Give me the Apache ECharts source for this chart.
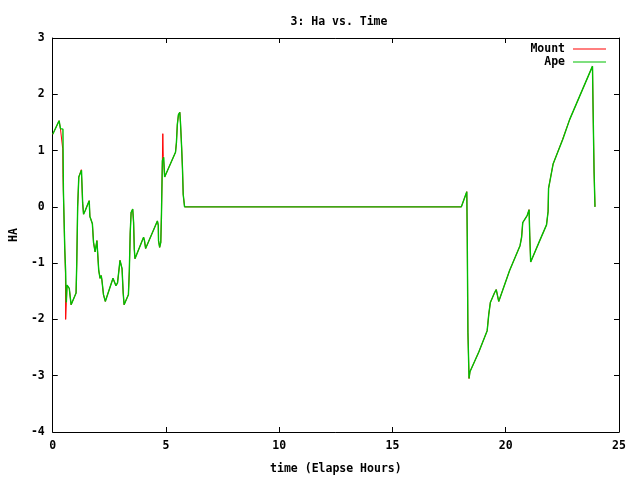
<!DOCTYPE html>
<html>
<head>
<meta charset="utf-8">
<script src="https://cdn.jsdelivr.net/npm/echarts@6/dist/echarts.min.js"></script>
<style>
  html, body { margin: 0; padding: 0; background: #fff; }
  #chart { width: 640px; height: 480px; }
</style>
</head>
<body>
<div id="chart"></div>
<script>
// Ape (green) track: elapsed hours vs HA
const apeTime = [
  0.00, 0.28, 0.34, 0.40, 0.45, 0.47, 0.53, 0.57, 0.60, 0.63, 0.70, 0.73, 0.81, 1.03, 1.06, 1.10,
  1.15, 1.27, 1.32, 1.36, 1.43, 1.55, 1.61, 1.64, 1.71, 1.75, 1.80, 1.87, 1.95, 1.98, 2.03, 2.09,
  2.14, 2.17, 2.24, 2.32, 2.66, 2.72, 2.79, 2.86, 2.97, 3.01, 3.06, 3.11, 3.15, 3.34, 3.38, 3.42,
  3.46, 3.53, 3.57, 3.60, 3.63, 4.01, 4.05, 4.10, 4.62, 4.66, 4.67, 4.72, 4.77, 4.80, 4.84, 4.90,
  4.94, 5.42, 5.46, 5.50, 5.55, 5.61, 5.64, 5.69, 5.73, 5.76, 5.82, 18.04, 18.28, 18.30, 18.33, 18.38,
  18.42, 18.81, 19.18, 19.25, 19.32, 19.50, 19.58, 19.69, 20.17, 20.63, 20.70, 20.75, 20.95, 21.03, 21.06, 21.10,
  21.50, 21.80, 21.87, 21.89, 22.09, 22.52, 22.82, 23.83, 23.85, 23.90, 23.94
];
const apeHa = [
  1.29, 1.53, 1.39, 1.38, 1.38, 0.30, -0.74, -1.16, -1.70, -1.39, -1.42, -1.45, -1.74, -1.53, -1.00, 0.00,
  0.53, 0.65, 0.07, -0.13, -0.07, 0.05, 0.11, -0.17, -0.20, -0.30, -0.63, -0.80, -0.60, -0.80, -1.13, -1.27,
  -1.22, -1.30, -1.56, -1.68, -1.27, -1.33, -1.40, -1.35, -0.95, -0.93, -1.10, -1.53, -1.74, -1.56, -1.15, -0.46,
  -0.10, -0.04, -0.28, -0.75, -0.92, -0.54, -0.60, -0.74, -0.25, -0.33, -0.60, -0.72, -0.63, -0.13, 0.82, 0.88,
  0.53, 0.97, 1.14, 1.46, 1.64, 1.68, 1.49, 1.06, 0.65, 0.22, 0.00, 0.00, 0.27, -0.54, -2.23, -3.05,
  -2.93, -2.58, -2.20, -1.91, -1.70, -1.53, -1.47, -1.68, -1.13, -0.69, -0.54, -0.28, -0.15, -0.05, -0.51, -0.98,
  -0.60, -0.32, -0.08, 0.33, 0.76, 1.20, 1.55, 2.50, 1.90, 0.62, 0.00
];

// Mount (red) track: mostly under the Ape line, differs in a few spots
const mountTime = [
  0.00, 0.28, 0.34, 0.40, 0.43, 0.44, 0.45, 0.53, 0.56, 0.57, 0.60, 0.63, 0.70, 0.73, 0.81, 1.03,
  1.06, 1.10, 1.15, 1.26, 1.32, 1.36, 1.43, 1.55, 1.61, 1.64, 1.71, 1.75, 1.80, 1.87, 1.95, 1.98,
  2.03, 2.09, 2.14, 2.17, 2.24, 2.32, 2.66, 2.72, 2.79, 2.86, 2.97, 3.01, 3.06, 3.11, 3.15, 3.34,
  3.38, 3.42, 3.46, 3.53, 3.57, 3.60, 3.63, 4.01, 4.05, 4.10, 4.62, 4.66, 4.67, 4.72, 4.77, 4.80,
  4.84, 4.86, 4.88, 4.94, 5.42, 5.46, 5.50, 5.55, 5.61, 5.64, 5.69, 5.73, 5.76, 5.82, 18.04, 18.28,
  18.30, 18.33, 18.38, 18.42, 18.81, 19.18, 19.25, 19.32, 19.50, 19.58, 19.69, 20.17, 20.63, 20.70, 20.75, 20.95,
  21.03, 21.06, 21.10, 21.50, 21.80, 21.87, 21.89, 22.09, 22.50, 22.82, 23.83, 23.85, 23.90, 23.94
];
const mountHa = [
  1.29, 1.53, 1.39, 1.38, 1.38, 1.03, 0.57, -0.74, -1.16, -2.00, -1.70, -1.39, -1.42, -1.45, -1.74, -1.53,
  -1.00, 0.00, 0.53, 0.66, 0.07, -0.13, -0.07, 0.05, 0.11, -0.17, -0.20, -0.30, -0.63, -0.80, -0.60, -0.80,
  -1.13, -1.27, -1.22, -1.30, -1.56, -1.68, -1.27, -1.33, -1.40, -1.35, -0.95, -0.93, -1.10, -1.53, -1.74, -1.56,
  -1.15, -0.46, -0.10, -0.04, -0.28, -0.75, -0.92, -0.54, -0.60, -0.74, -0.25, -0.33, -0.60, -0.72, -0.63, -0.13,
  0.82, 1.30, 0.90, 0.53, 0.97, 1.14, 1.46, 1.64, 1.68, 1.49, 1.06, 0.65, 0.22, 0.00, 0.00, 0.27,
  -0.54, -2.23, -3.05, -2.93, -2.58, -2.20, -1.91, -1.70, -1.53, -1.47, -1.68, -1.13, -0.69, -0.54, -0.28, -0.15,
  -0.05, -0.51, -0.98, -0.60, -0.32, -0.08, 0.33, 0.76, 1.19, 1.55, 2.50, 1.90, 0.62, 0.00
];

const xTicks = [0, 5, 10, 15, 20, 25];
const yTicks = [-4, -3, -2, -1, 0, 1, 2, 3];

const FONT = "'DejaVu Sans Mono', monospace";
const txt = { fontFamily: FONT, fontSize: 11.5, fontWeight: "bold", color: "#000" };

const zip = (xs, ys) => xs.map((x, i) => [x, ys[i]]);

const chart = echarts.init(document.getElementById("chart"));

const tickAxisBase = {
  axisLine: { show: true, onZero: false, lineStyle: { color: "#000", width: 1 } },
  axisTick: { show: true, inside: true, length: 5, lineStyle: { color: "#000" } },
  splitLine: { show: false },
};

chart.setOption({
  animation: false,
  backgroundColor: "#fff",
  title: {
    text: "3: Ha vs. Time",
    left: 334,
    textAlign: "center",
    top: 11,
    textStyle: { ...txt },
  },
  grid: { left: 47, right: 21, top: 38, bottom: 40, containLabel: false },
  legend: {
    orient: "vertical",
    right: 34,
    top: 42.5,
    padding: 0,
    align: "right",
    icon: "rect",
    itemWidth: 33,
    itemHeight: 1,
    itemGap: 0,
    itemStyle: { borderWidth: 0 },
    textStyle: { ...txt, padding: [0, 3, 0, 0], lineHeight: 13 },
    data: [
      { name: "Mount", itemStyle: { color: "#ff0000", borderWidth: 0 } },
      { name: "Ape", itemStyle: { color: "#00c000", borderWidth: 0 } },
    ],
  },
  xAxis: [
    {
      ...tickAxisBase,
      type: "value",
      min: xTicks[0],
      max: xTicks[xTicks.length - 1],
      interval: 5,
      name: "time (Elapse Hours)",
      nameLocation: "middle",
      nameGap: 31,
      nameTextStyle: { ...txt },
      axisLabel: { ...txt, margin: 8 },
    },
    {
      ...tickAxisBase,
      type: "value",
      position: "top",
      min: xTicks[0],
      max: xTicks[xTicks.length - 1],
      interval: 5,
      axisLabel: { show: false },
    },
  ],
  yAxis: [
    {
      ...tickAxisBase,
      type: "value",
      min: yTicks[0],
      max: yTicks[yTicks.length - 1],
      interval: 1,
      name: "HA",
      nameLocation: "middle",
      nameGap: 31,
      nameRotate: 90,
      nameTextStyle: { ...txt },
      axisLabel: { ...txt, margin: 8 },
    },
    {
      ...tickAxisBase,
      type: "value",
      position: "right",
      min: yTicks[0],
      max: yTicks[yTicks.length - 1],
      interval: 1,
      axisLabel: { show: false },
    },
  ],
  series: [
    {
      name: "Mount",
      type: "line",
      data: zip(mountTime, mountHa),
      showSymbol: false,
      symbol: "none",
      lineStyle: { color: "#ff0000", width: 1 },
      itemStyle: { color: "#ff0000" },
    },
    {
      name: "Ape",
      type: "line",
      data: zip(apeTime, apeHa),
      showSymbol: false,
      symbol: "none",
      lineStyle: { color: "#00c000", width: 1.4 },
      itemStyle: { color: "#00c000" },
    },
  ],
});
</script>
</body>
</html>
